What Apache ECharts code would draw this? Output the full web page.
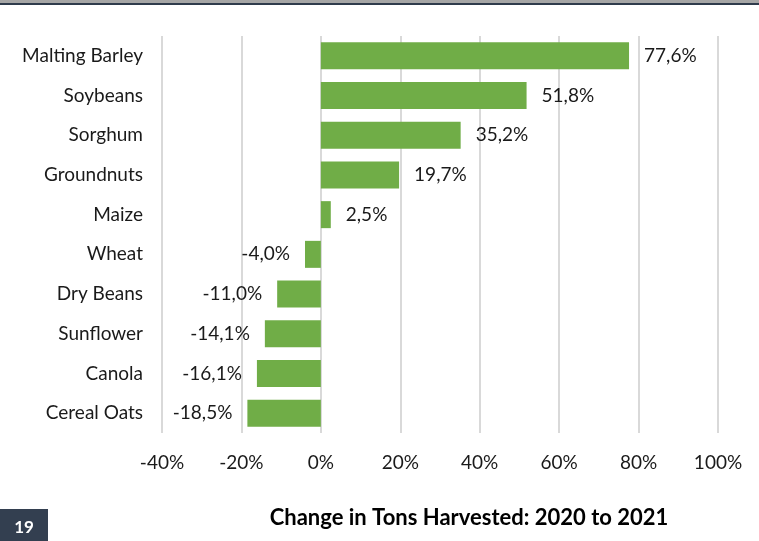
<!DOCTYPE html>
<html>
<head>
<meta charset="utf-8">
<title>Change in Tons Harvested: 2020 to 2021</title>
<script src="https://cdn.jsdelivr.net/npm/echarts@6/dist/echarts.min.js"></script>
<style>
  html, body { margin: 0; padding: 0; background: #ffffff; }
  #chart { width: 759px; height: 541px; }
</style>
</head>
<body>
<div id="chart"></div>
<script>
// Crop categories, top to bottom
const crops = [
  'Malting Barley', 'Soybeans', 'Sorghum', 'Groundnuts', 'Maize',
  'Wheat', 'Dry Beans', 'Sunflower', 'Canola', 'Cereal Oats'
];
// Percentage change in tons harvested, 2020 to 2021
const changePct = [77.6, 51.8, 35.2, 19.7, 2.5, -4.0, -11.0, -14.1, -16.1, -18.5];
// Value axis ticks (percent)
const axisMin = -40;
const axisMax = 100;
const axisStep = 20;

const pageNumber = '19';
const chartTitle = 'Change in Tons Harvested: 2020 to 2021';

const FONT = 'Lato, "Liberation Sans", sans-serif';
const fmtPct = v => v.toFixed(1).replace('.', ',') + '%';

const barData = changePct.map(v => ({
  value: v,
  label: { position: v >= 0 ? 'right' : 'left' }
}));

const chart = echarts.init(document.getElementById('chart'), null, { renderer: 'canvas' });

chart.setOption({
  animation: false,
  backgroundColor: '#ffffff',
  title: {
    text: chartTitle,
    left: 464,
    textAlign: 'center',
    top: 502,
    textStyle: { fontFamily: FONT, fontSize: 22, fontWeight: 'bold', color: '#000000' }
  },
  grid: { left: 162, right: 41, top: 36, bottom: 108, containLabel: false },
  xAxis: {
    type: 'value',
    min: axisMin,
    max: axisMax,
    interval: axisStep,
    axisLine: { show: false },
    axisTick: { show: false },
    splitLine: { show: true, lineStyle: { color: '#d9d9d9', width: 2 } },
    axisLabel: {
      formatter: '{value}%',
      margin: 20,
      fontFamily: FONT,
      fontSize: 19,
      color: '#1a1a1a'
    }
  },
  yAxis: {
    type: 'category',
    data: crops,
    inverse: true,
    axisLine: { show: false },
    axisTick: { show: false },
    splitLine: { show: false },
    axisLabel: {
      margin: 19,
      fontFamily: FONT,
      fontSize: 19,
      color: '#1a1a1a'
    }
  },
  series: [{
    type: 'bar',
    data: barData,
    barCategoryGap: '32%',
    itemStyle: { color: '#70ad47' },
    label: {
      show: true,
      distance: 15,
      formatter: p => fmtPct(p.value),
      fontFamily: FONT,
      fontSize: 19,
      color: '#1a1a1a'
    }
  }],
  graphic: [
    { type: 'rect', shape: { x: 0, y: 0, width: 759, height: 3 }, style: { fill: '#a6a6a6' } },
    { type: 'rect', shape: { x: 0, y: 3, width: 759, height: 2 }, style: { fill: '#2f3b4c' } },
    { type: 'rect', shape: { x: 0, y: 509, width: 48, height: 32 }, style: { fill: '#333f50' } },
    {
      type: 'text',
      x: 24, y: 528,
      style: {
        text: pageNumber,
        fill: '#ffffff',
        font: 'bold 17px ' + FONT,
        align: 'center',
        verticalAlign: 'middle'
      }
    }
  ]
});
</script>
</body>
</html>
